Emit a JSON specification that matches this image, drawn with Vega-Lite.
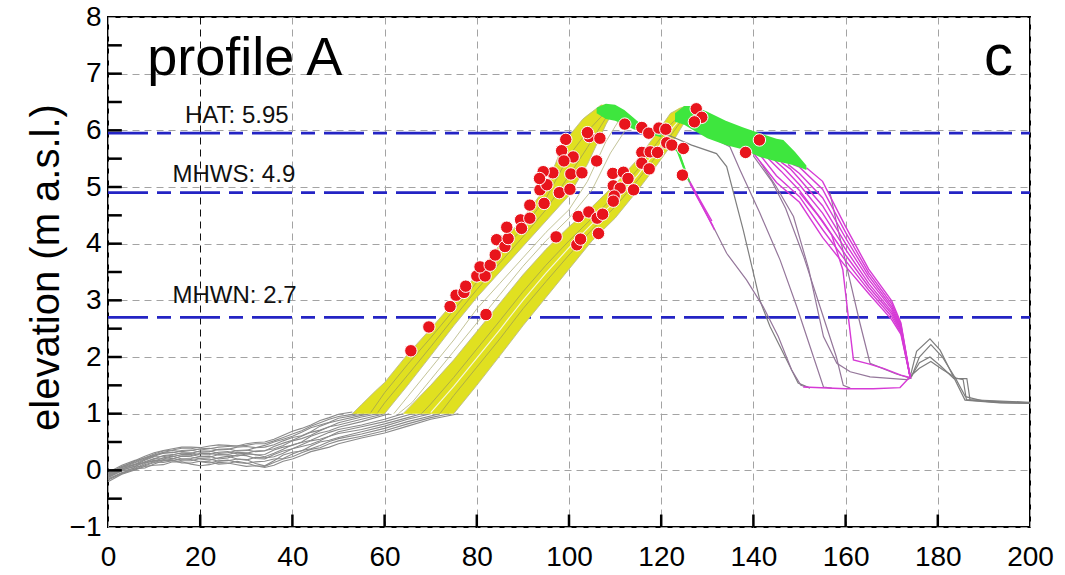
{
"$schema": "https://vega.github.io/schema/vega-lite/v6.json",
"width": 922, "height": 510,
"autosize": {"type": "none"},
"padding": {"left": 108, "top": 17, "right": 35, "bottom": 48},
"background": "#ffffff",
"config": {"view": {"stroke": "#000000", "strokeWidth": 2}},
"datasets": {
"off": [
{"s":1,"x":0,"y":-0.2},{"s":1,"x":3,"y":-0.07},{"s":1,"x":6,"y":0.01},{"s":1,"x":10,"y":0.09},{"s":1,"x":14,"y":0.15},{"s":1,"x":18,"y":0.11},{"s":1,"x":22,"y":0.1},{"s":1,"x":26,"y":0.13},{"s":1,"x":30,"y":0.07},{"s":1,"x":34,"y":0.05},{"s":1,"x":38,"y":0.16},{"s":1,"x":42,"y":0.26},{"s":1,"x":46,"y":0.37},{"s":1,"x":50,"y":0.47},{"s":1,"x":55,"y":0.57},{"s":1,"x":60,"y":0.66},{"s":1,"x":65,"y":0.78},{"s":1,"x":70,"y":0.9},{"s":1,"x":76,"y":1.0},
{"s":2,"x":0,"y":-0.17},{"s":2,"x":3,"y":-0.06},{"s":2,"x":6,"y":0.03},{"s":2,"x":10,"y":0.11},{"s":2,"x":14,"y":0.18},{"s":2,"x":18,"y":0.13},{"s":2,"x":22,"y":0.15},{"s":2,"x":26,"y":0.12},{"s":2,"x":30,"y":0.13},{"s":2,"x":34,"y":0.07},{"s":2,"x":38,"y":0.2},{"s":2,"x":42,"y":0.31},{"s":2,"x":46,"y":0.4},{"s":2,"x":50,"y":0.52},{"s":2,"x":55,"y":0.6},{"s":2,"x":60,"y":0.7},{"s":2,"x":65,"y":0.82},{"s":2,"x":70,"y":0.93},{"s":2,"x":74,"y":1.0},
{"s":3,"x":0,"y":-0.16},{"s":3,"x":3,"y":-0.04},{"s":3,"x":6,"y":0.02},{"s":3,"x":10,"y":0.15},{"s":3,"x":14,"y":0.17},{"s":3,"x":18,"y":0.19},{"s":3,"x":22,"y":0.13},{"s":3,"x":26,"y":0.18},{"s":3,"x":30,"y":0.12},{"s":3,"x":34,"y":0.16},{"s":3,"x":38,"y":0.21},{"s":3,"x":42,"y":0.35},{"s":3,"x":46,"y":0.44},{"s":3,"x":50,"y":0.56},{"s":3,"x":55,"y":0.64},{"s":3,"x":60,"y":0.74},{"s":3,"x":65,"y":0.86},{"s":3,"x":72,"y":1.0},
{"s":4,"x":0,"y":-0.15},{"s":4,"x":3,"y":-0.05},{"s":4,"x":6,"y":0.06},{"s":4,"x":10,"y":0.14},{"s":4,"x":14,"y":0.21},{"s":4,"x":18,"y":0.17},{"s":4,"x":22,"y":0.2},{"s":4,"x":26,"y":0.17},{"s":4,"x":30,"y":0.19},{"s":4,"x":34,"y":0.08},{"s":4,"x":38,"y":0.27},{"s":4,"x":42,"y":0.34},{"s":4,"x":46,"y":0.5},{"s":4,"x":50,"y":0.58},{"s":4,"x":55,"y":0.68},{"s":4,"x":60,"y":0.78},{"s":4,"x":65,"y":0.9},{"s":4,"x":70,"y":1.0},
{"s":5,"x":0,"y":-0.13},{"s":5,"x":3,"y":-0.01},{"s":5,"x":6,"y":0.04},{"s":5,"x":10,"y":0.18},{"s":5,"x":14,"y":0.2},{"s":5,"x":18,"y":0.24},{"s":5,"x":22,"y":0.18},{"s":5,"x":26,"y":0.25},{"s":5,"x":30,"y":0.18},{"s":5,"x":34,"y":0.22},{"s":5,"x":38,"y":0.3},{"s":5,"x":42,"y":0.42},{"s":5,"x":46,"y":0.52},{"s":5,"x":50,"y":0.65},{"s":5,"x":55,"y":0.72},{"s":5,"x":60,"y":0.82},{"s":5,"x":65,"y":0.93},{"s":5,"x":68,"y":1.0},
{"s":6,"x":0,"y":-0.12},{"s":6,"x":3,"y":0.0},{"s":6,"x":6,"y":0.08},{"s":6,"x":10,"y":0.16},{"s":6,"x":14,"y":0.25},{"s":6,"x":18,"y":0.21},{"s":6,"x":22,"y":0.25},{"s":6,"x":26,"y":0.22},{"s":6,"x":30,"y":0.26},{"s":6,"x":34,"y":0.2},{"s":6,"x":38,"y":0.34},{"s":6,"x":42,"y":0.45},{"s":6,"x":46,"y":0.55},{"s":6,"x":50,"y":0.68},{"s":6,"x":55,"y":0.77},{"s":6,"x":60,"y":0.86},{"s":6,"x":66,"y":1.0},
{"s":7,"x":0,"y":-0.11},{"s":7,"x":3,"y":0.01},{"s":7,"x":6,"y":0.07},{"s":7,"x":10,"y":0.21},{"s":7,"x":14,"y":0.24},{"s":7,"x":18,"y":0.28},{"s":7,"x":22,"y":0.23},{"s":7,"x":26,"y":0.27},{"s":7,"x":30,"y":0.29},{"s":7,"x":34,"y":0.24},{"s":7,"x":38,"y":0.37},{"s":7,"x":42,"y":0.49},{"s":7,"x":46,"y":0.6},{"s":7,"x":50,"y":0.72},{"s":7,"x":55,"y":0.8},{"s":7,"x":60,"y":0.9},{"s":7,"x":64,"y":1.0},
{"s":8,"x":0,"y":-0.1},{"s":8,"x":3,"y":0.02},{"s":8,"x":6,"y":0.11},{"s":8,"x":10,"y":0.2},{"s":8,"x":14,"y":0.28},{"s":8,"x":18,"y":0.26},{"s":8,"x":22,"y":0.3},{"s":8,"x":26,"y":0.28},{"s":8,"x":30,"y":0.31},{"s":8,"x":34,"y":0.28},{"s":8,"x":38,"y":0.41},{"s":8,"x":42,"y":0.5},{"s":8,"x":46,"y":0.66},{"s":8,"x":50,"y":0.76},{"s":8,"x":55,"y":0.86},{"s":8,"x":61,"y":1.0},
{"s":9,"x":0,"y":-0.09},{"s":9,"x":3,"y":0.03},{"s":9,"x":6,"y":0.1},{"s":9,"x":10,"y":0.24},{"s":9,"x":14,"y":0.27},{"s":9,"x":18,"y":0.31},{"s":9,"x":22,"y":0.28},{"s":9,"x":26,"y":0.33},{"s":9,"x":30,"y":0.3},{"s":9,"x":34,"y":0.35},{"s":9,"x":38,"y":0.44},{"s":9,"x":42,"y":0.56},{"s":9,"x":46,"y":0.7},{"s":9,"x":50,"y":0.8},{"s":9,"x":55,"y":0.9},{"s":9,"x":60,"y":1.0},
{"s":10,"x":0,"y":-0.08},{"s":10,"x":3,"y":0.05},{"s":10,"x":6,"y":0.11},{"s":10,"x":10,"y":0.25},{"s":10,"x":14,"y":0.32},{"s":10,"x":18,"y":0.3},{"s":10,"x":22,"y":0.34},{"s":10,"x":26,"y":0.31},{"s":10,"x":30,"y":0.36},{"s":10,"x":34,"y":0.34},{"s":10,"x":38,"y":0.48},{"s":10,"x":42,"y":0.6},{"s":10,"x":46,"y":0.71},{"s":10,"x":50,"y":0.84},{"s":10,"x":55,"y":0.94},{"s":10,"x":58.5,"y":1.0},
{"s":11,"x":0,"y":-0.07},{"s":11,"x":3,"y":0.05},{"s":11,"x":6,"y":0.14},{"s":11,"x":10,"y":0.27},{"s":11,"x":14,"y":0.31},{"s":11,"x":18,"y":0.36},{"s":11,"x":22,"y":0.33},{"s":11,"x":26,"y":0.38},{"s":11,"x":30,"y":0.35},{"s":11,"x":34,"y":0.41},{"s":11,"x":38,"y":0.52},{"s":11,"x":42,"y":0.61},{"s":11,"x":46,"y":0.78},{"s":11,"x":50,"y":0.88},{"s":11,"x":55,"y":0.97},{"s":11,"x":57,"y":1.0},
{"s":12,"x":0,"y":-0.06},{"s":12,"x":3,"y":0.07},{"s":12,"x":6,"y":0.15},{"s":12,"x":10,"y":0.26},{"s":12,"x":14,"y":0.35},{"s":12,"x":18,"y":0.35},{"s":12,"x":22,"y":0.39},{"s":12,"x":26,"y":0.37},{"s":12,"x":30,"y":0.42},{"s":12,"x":34,"y":0.44},{"s":12,"x":38,"y":0.55},{"s":12,"x":42,"y":0.67},{"s":12,"x":46,"y":0.8},{"s":12,"x":50,"y":0.92},{"s":12,"x":55.5,"y":1.0},
{"s":13,"x":0,"y":-0.05},{"s":13,"x":3,"y":0.06},{"s":13,"x":6,"y":0.17},{"s":13,"x":10,"y":0.29},{"s":13,"x":14,"y":0.36},{"s":13,"x":18,"y":0.39},{"s":13,"x":22,"y":0.38},{"s":13,"x":26,"y":0.42},{"s":13,"x":30,"y":0.44},{"s":13,"x":34,"y":0.47},{"s":13,"x":38,"y":0.58},{"s":13,"x":42,"y":0.7},{"s":13,"x":46,"y":0.84},{"s":13,"x":50,"y":0.95},{"s":13,"x":54,"y":1.0},
{"s":14,"x":0,"y":-0.04},{"s":14,"x":3,"y":0.09},{"s":14,"x":6,"y":0.18},{"s":14,"x":10,"y":0.31},{"s":14,"x":14,"y":0.38},{"s":14,"x":18,"y":0.41},{"s":14,"x":22,"y":0.43},{"s":14,"x":26,"y":0.44},{"s":14,"x":30,"y":0.47},{"s":14,"x":34,"y":0.5},{"s":14,"x":38,"y":0.62},{"s":14,"x":42,"y":0.74},{"s":14,"x":46,"y":0.88},{"s":14,"x":50,"y":0.99},{"s":14,"x":53,"y":1.03},
{"s":1,"x":8,"y":0.07},{"s":1,"x":12,"y":0.1},{"s":1,"x":16,"y":0.15},{"s":1,"x":20,"y":0.08},{"s":1,"x":24,"y":0.14},{"s":1,"x":28,"y":0.1},{"s":1,"x":32,"y":0.08},{"s":1,"x":36,"y":0.09},{"s":1,"x":40,"y":0.2},{"s":1,"x":44,"y":0.33},{"s":1,"x":48,"y":0.41},
{"s":2,"x":8,"y":0.04},{"s":2,"x":12,"y":0.17},{"s":2,"x":16,"y":0.13},{"s":2,"x":20,"y":0.16},{"s":2,"x":24,"y":0.11},{"s":2,"x":28,"y":0.16},{"s":2,"x":32,"y":0.08},{"s":2,"x":36,"y":0.14},{"s":2,"x":40,"y":0.24},{"s":2,"x":44,"y":0.37},{"s":2,"x":48,"y":0.47},
{"s":3,"x":8,"y":0.1},{"s":3,"x":12,"y":0.14},{"s":3,"x":16,"y":0.2},{"s":3,"x":20,"y":0.15},{"s":3,"x":24,"y":0.17},{"s":3,"x":28,"y":0.14},{"s":3,"x":32,"y":0.15},{"s":3,"x":36,"y":0.2},{"s":3,"x":40,"y":0.29},{"s":3,"x":44,"y":0.38},{"s":3,"x":48,"y":0.51},
{"s":4,"x":8,"y":0.08},{"s":4,"x":12,"y":0.19},{"s":4,"x":16,"y":0.17},{"s":4,"x":20,"y":0.21},{"s":4,"x":24,"y":0.16},{"s":4,"x":28,"y":0.2},{"s":4,"x":32,"y":0.12},{"s":4,"x":36,"y":0.17},{"s":4,"x":40,"y":0.32},{"s":4,"x":44,"y":0.43},{"s":4,"x":48,"y":0.53},
{"s":5,"x":8,"y":0.12},{"s":5,"x":12,"y":0.17},{"s":5,"x":16,"y":0.25},{"s":5,"x":20,"y":0.2},{"s":5,"x":24,"y":0.22},{"s":5,"x":28,"y":0.2},{"s":5,"x":32,"y":0.23},{"s":5,"x":36,"y":0.24},{"s":5,"x":40,"y":0.38},{"s":5,"x":44,"y":0.46},{"s":5,"x":48,"y":0.6},
{"s":6,"x":8,"y":0.14},{"s":6,"x":12,"y":0.22},{"s":6,"x":16,"y":0.2},{"s":6,"x":20,"y":0.24},{"s":6,"x":24,"y":0.2},{"s":6,"x":28,"y":0.27},{"s":6,"x":32,"y":0.21},{"s":6,"x":36,"y":0.28},{"s":6,"x":40,"y":0.38},{"s":6,"x":44,"y":0.52},{"s":6,"x":48,"y":0.6},
{"s":7,"x":8,"y":0.15},{"s":7,"x":12,"y":0.2},{"s":7,"x":16,"y":0.28},{"s":7,"x":20,"y":0.24},{"s":7,"x":24,"y":0.28},{"s":7,"x":28,"y":0.25},{"s":7,"x":32,"y":0.28},{"s":7,"x":36,"y":0.3},{"s":7,"x":40,"y":0.45},{"s":7,"x":44,"y":0.53},{"s":7,"x":48,"y":0.67},
{"s":8,"x":8,"y":0.14},{"s":8,"x":12,"y":0.26},{"s":8,"x":16,"y":0.25},{"s":8,"x":20,"y":0.3},{"s":8,"x":24,"y":0.27},{"s":8,"x":28,"y":0.32},{"s":8,"x":32,"y":0.27},{"s":8,"x":36,"y":0.36},{"s":8,"x":40,"y":0.44},{"s":8,"x":44,"y":0.6},{"s":8,"x":48,"y":0.7},
{"s":9,"x":8,"y":0.18},{"s":9,"x":12,"y":0.24},{"s":9,"x":16,"y":0.31},{"s":9,"x":20,"y":0.27},{"s":9,"x":24,"y":0.32},{"s":9,"x":28,"y":0.29},{"s":9,"x":32,"y":0.34},{"s":9,"x":36,"y":0.38},{"s":9,"x":40,"y":0.52},{"s":9,"x":44,"y":0.62},{"s":9,"x":48,"y":0.77},
{"s":10,"x":8,"y":0.19},{"s":10,"x":12,"y":0.3},{"s":10,"x":16,"y":0.29},{"s":10,"x":20,"y":0.34},{"s":10,"x":24,"y":0.3},{"s":10,"x":28,"y":0.35},{"s":10,"x":32,"y":0.33},{"s":10,"x":36,"y":0.42},{"s":10,"x":40,"y":0.53},{"s":10,"x":44,"y":0.67},{"s":10,"x":48,"y":0.77},
{"s":11,"x":8,"y":0.2},{"s":11,"x":12,"y":0.31},{"s":11,"x":16,"y":0.35},{"s":11,"x":20,"y":0.32},{"s":11,"x":24,"y":0.37},{"s":11,"x":28,"y":0.34},{"s":11,"x":32,"y":0.4},{"s":11,"x":36,"y":0.45},{"s":11,"x":40,"y":0.58},{"s":11,"x":44,"y":0.68},{"s":11,"x":48,"y":0.84},
{"s":12,"x":8,"y":0.22},{"s":12,"x":12,"y":0.32},{"s":12,"x":16,"y":0.33},{"s":12,"x":20,"y":0.38},{"s":12,"x":24,"y":0.36},{"s":12,"x":28,"y":0.41},{"s":12,"x":32,"y":0.4},{"s":12,"x":36,"y":0.5},{"s":12,"x":40,"y":0.6},{"s":12,"x":44,"y":0.75},{"s":12,"x":48,"y":0.85},
{"s":13,"x":8,"y":0.22},{"s":13,"x":12,"y":0.34},{"s":13,"x":16,"y":0.39},{"s":13,"x":20,"y":0.36},{"s":13,"x":24,"y":0.41},{"s":13,"x":28,"y":0.43},{"s":13,"x":32,"y":0.47},{"s":13,"x":36,"y":0.52},{"s":13,"x":40,"y":0.64},{"s":13,"x":44,"y":0.78},{"s":13,"x":48,"y":0.9},
{"s":14,"x":8,"y":0.25},{"s":14,"x":12,"y":0.35},{"s":14,"x":16,"y":0.41},{"s":14,"x":20,"y":0.4},{"s":14,"x":24,"y":0.45},{"s":14,"x":28,"y":0.43},{"s":14,"x":32,"y":0.49},{"s":14,"x":36,"y":0.55},{"s":14,"x":40,"y":0.69},{"s":14,"x":44,"y":0.8},{"s":14,"x":48,"y":0.93}
],
"yb": [
{"b":"U","x":53,"y":1,"y2":1},{"b":"U","x":55,"y":1.16,"y2":1},{"b":"U","x":58,"y":1.4,"y2":1},{"b":"U","x":60,"y":1.55,"y2":1},{"b":"U","x":65,"y":2.05,"y2":1.5},{"b":"U","x":70,"y":2.5,"y2":2.02},{"b":"U","x":75,"y":2.97,"y2":2.55},{"b":"U","x":80,"y":3.45,"y2":3.05},{"b":"U","x":85,"y":3.98,"y2":3.5},{"b":"U","x":90,"y":4.45,"y2":3.95},{"b":"U","x":95,"y":5,"y2":4.4},{"b":"U","x":99,"y":5.8,"y2":4.76},{"b":"U","x":100,"y":5.9,"y2":4.85},{"b":"U","x":103,"y":6.2,"y2":5.26},{"b":"U","x":104,"y":6.27,"y2":5.4},{"b":"U","x":107,"y":6.45,"y2":5.92},{"b":"U","x":108,"y":6.45,"y2":6.1},{"b":"U","x":110,"y":6.4,"y2":6.4},
{"b":"L","x":64,"y":1,"y2":1},{"b":"L","x":65,"y":1.08,"y2":1},{"b":"L","x":70,"y":1.5,"y2":1},{"b":"L","x":75,"y":1.95,"y2":1},{"b":"L","x":80,"y":2.45,"y2":1.5},{"b":"L","x":85,"y":2.95,"y2":2.02},{"b":"L","x":90,"y":3.45,"y2":2.55},{"b":"L","x":95,"y":3.9,"y2":3.05},{"b":"L","x":100,"y":4.3,"y2":3.55},{"b":"L","x":105,"y":4.65,"y2":4.05},{"b":"L","x":110,"y":5.05,"y2":4.45},{"b":"L","x":115,"y":5.5,"y2":4.95},{"b":"L","x":119,"y":5.95,"y2":5.38},{"b":"L","x":122,"y":6.3,"y2":5.72},{"b":"L","x":124,"y":6.4,"y2":6.0},{"b":"L","x":125,"y":6.42,"y2":6.13},{"b":"L","x":127,"y":6.4,"y2":6.4}
],
"gb": [
{"b":"G1","x":106,"y":6.4,"y2":6.3},{"b":"G1","x":108,"y":6.47,"y2":6.2},{"b":"G1","x":110,"y":6.45,"y2":6.17},{"b":"G1","x":112,"y":6.36,"y2":6.1},{"b":"G1","x":114,"y":6.22,"y2":6.02},{"b":"G1","x":116,"y":6.08,"y2":5.96},{"b":"G1","x":118,"y":5.99,"y2":5.92},{"b":"G1","x":120,"y":5.95,"y2":5.88},
{"b":"G2","x":123,"y":6.3,"y2":6.15},{"b":"G2","x":125,"y":6.43,"y2":6.1},{"b":"G2","x":127,"y":6.43,"y2":6.0},{"b":"G2","x":130,"y":6.33,"y2":5.86},{"b":"G2","x":134,"y":6.17,"y2":5.74},{"b":"G2","x":137.8,"y":6.05,"y2":5.66},{"b":"G2","x":141.4,"y":5.95,"y2":5.53},{"b":"G2","x":145,"y":5.85,"y2":5.45},{"b":"G2","x":146.5,"y":5.83,"y2":5.43},{"b":"G2","x":149,"y":5.62,"y2":5.38},{"b":"G2","x":151.5,"y":5.38,"y2":5.3}
],
"tex": [
{"s":"UL","c":"l","x":53,"y":1},{"s":"UL","c":"l","x":55,"y":1.16},{"s":"UL","c":"l","x":58,"y":1.4},{"s":"UL","c":"l","x":60,"y":1.55},{"s":"UL","c":"l","x":65,"y":2.05},{"s":"UL","c":"l","x":70,"y":2.5},{"s":"UL","c":"l","x":75,"y":2.97},{"s":"UL","c":"l","x":80,"y":3.45},{"s":"UL","c":"l","x":85,"y":3.98},{"s":"UL","c":"l","x":90,"y":4.45},{"s":"UL","c":"l","x":95,"y":5},{"s":"UL","c":"l","x":99,"y":5.8},{"s":"UL","c":"l","x":103,"y":6.2},{"s":"UL","c":"l","x":107,"y":6.45},
{"s":"UR","c":"l","x":60,"y":1},{"s":"UR","c":"l","x":65,"y":1.5},{"s":"UR","c":"l","x":70,"y":2.02},{"s":"UR","c":"l","x":75,"y":2.55},{"s":"UR","c":"l","x":80,"y":3.05},{"s":"UR","c":"l","x":85,"y":3.5},{"s":"UR","c":"l","x":90,"y":3.95},{"s":"UR","c":"l","x":95,"y":4.4},{"s":"UR","c":"l","x":100,"y":4.85},{"s":"UR","c":"l","x":104,"y":5.4},{"s":"UR","c":"l","x":108,"y":6.1},{"s":"UR","c":"l","x":110,"y":6.4},
{"s":"U33","c":"o","x":57,"y":1.02},{"s":"U33","c":"o","x":60,"y":1.37},{"s":"U33","c":"o","x":65,"y":1.87},{"s":"U33","c":"o","x":70,"y":2.34},{"s":"U33","c":"o","x":75,"y":2.83},{"s":"U33","c":"o","x":80,"y":3.32},{"s":"U33","c":"o","x":85,"y":3.82},{"s":"U33","c":"o","x":90,"y":4.28},{"s":"U33","c":"o","x":95,"y":4.8},{"s":"U33","c":"o","x":100,"y":5.55},{"s":"U33","c":"o","x":104,"y":5.98},{"s":"U33","c":"o","x":108,"y":6.33},
{"s":"U66","c":"o","x":58.5,"y":1.02},{"s":"U66","c":"o","x":60,"y":1.19},{"s":"U66","c":"o","x":65,"y":1.68},{"s":"U66","c":"o","x":70,"y":2.18},{"s":"U66","c":"o","x":75,"y":2.69},{"s":"U66","c":"o","x":80,"y":3.19},{"s":"U66","c":"o","x":85,"y":3.66},{"s":"U66","c":"o","x":90,"y":4.12},{"s":"U66","c":"o","x":95,"y":4.6},{"s":"U66","c":"o","x":100,"y":5.2},{"s":"U66","c":"o","x":104,"y":5.7},{"s":"U66","c":"o","x":108,"y":6.22},
{"s":"L33","c":"o","x":68,"y":1},{"s":"L33","c":"o","x":70,"y":1.17},{"s":"L33","c":"o","x":75,"y":1.64},{"s":"L33","c":"o","x":80,"y":2.14},{"s":"L33","c":"o","x":85,"y":2.64},{"s":"L33","c":"o","x":90,"y":3.15},{"s":"L33","c":"o","x":95,"y":3.62},{"s":"L33","c":"o","x":100,"y":4.05},{"s":"L33","c":"o","x":105,"y":4.45},{"s":"L33","c":"o","x":110,"y":4.85},{"s":"L33","c":"o","x":115,"y":5.32},{"s":"L33","c":"o","x":119,"y":5.77},{"s":"L33","c":"o","x":122,"y":6.1},{"s":"L33","c":"o","x":125,"y":6.33},
{"s":"L50","c":"w","x":70,"y":1.02},{"s":"L50","c":"w","x":75,"y":1.48},{"s":"L50","c":"w","x":80,"y":1.98},{"s":"L50","c":"w","x":85,"y":2.48},{"s":"L50","c":"w","x":90,"y":3},{"s":"L50","c":"w","x":95,"y":3.48},{"s":"L50","c":"w","x":100,"y":3.93},{"s":"L50","c":"w","x":105,"y":4.35},{"s":"L50","c":"w","x":110,"y":4.75},{"s":"L50","c":"w","x":115,"y":5.22},{"s":"L50","c":"w","x":119,"y":5.66},{"s":"L50","c":"w","x":122,"y":6},{"s":"L50","c":"w","x":125,"y":6.28},
{"s":"L66","c":"o","x":72,"y":1},{"s":"L66","c":"o","x":75,"y":1.32},{"s":"L66","c":"o","x":80,"y":1.82},{"s":"L66","c":"o","x":85,"y":2.32},{"s":"L66","c":"o","x":90,"y":2.85},{"s":"L66","c":"o","x":95,"y":3.33},{"s":"L66","c":"o","x":100,"y":3.8},{"s":"L66","c":"o","x":105,"y":4.25},{"s":"L66","c":"o","x":110,"y":4.65},{"s":"L66","c":"o","x":115,"y":5.13},{"s":"L66","c":"o","x":119,"y":5.55},{"s":"L66","c":"o","x":122,"y":5.9},{"s":"L66","c":"o","x":125,"y":6.24},
{"s":"LL","c":"l","x":64,"y":1},{"s":"LL","c":"l","x":70,"y":1.5},{"s":"LL","c":"l","x":75,"y":1.95},{"s":"LL","c":"l","x":80,"y":2.45},{"s":"LL","c":"l","x":85,"y":2.95},{"s":"LL","c":"l","x":90,"y":3.45},{"s":"LL","c":"l","x":95,"y":3.9},{"s":"LL","c":"l","x":100,"y":4.3},{"s":"LL","c":"l","x":105,"y":4.65},{"s":"LL","c":"l","x":110,"y":5.05},{"s":"LL","c":"l","x":115,"y":5.5},{"s":"LL","c":"l","x":119,"y":5.95},{"s":"LL","c":"l","x":122,"y":6.3},{"s":"LL","c":"l","x":125,"y":6.42},
{"s":"LR","c":"l","x":75,"y":1},{"s":"LR","c":"l","x":80,"y":1.5},{"s":"LR","c":"l","x":85,"y":2.02},{"s":"LR","c":"l","x":90,"y":2.55},{"s":"LR","c":"l","x":95,"y":3.05},{"s":"LR","c":"l","x":100,"y":3.55},{"s":"LR","c":"l","x":105,"y":4.05},{"s":"LR","c":"l","x":110,"y":4.45},{"s":"LR","c":"l","x":115,"y":4.95},{"s":"LR","c":"l","x":119,"y":5.38},{"s":"LR","c":"l","x":122,"y":5.72},{"s":"LR","c":"l","x":124,"y":6},{"s":"LR","c":"l","x":127,"y":6.4},
{"s":"GP1","c":"l","x":62,"y":1},{"s":"GP1","c":"l","x":65,"y":1.3},{"s":"GP1","c":"l","x":70,"y":1.8},{"s":"GP1","c":"l","x":75,"y":2.3},{"s":"GP1","c":"l","x":80,"y":2.85},{"s":"GP1","c":"l","x":85,"y":3.3},{"s":"GP1","c":"l","x":90,"y":3.75},{"s":"GP1","c":"l","x":95,"y":4.2},{"s":"GP1","c":"l","x":100,"y":4.6},{"s":"GP1","c":"l","x":104,"y":5.1},{"s":"GP1","c":"l","x":108,"y":5.8},{"s":"GP1","c":"l","x":111,"y":6.2},
{"s":"GP2","c":"l","x":63,"y":1},{"s":"GP2","c":"l","x":66,"y":1.2},{"s":"GP2","c":"l","x":70,"y":1.6},{"s":"GP2","c":"l","x":75,"y":2.1},{"s":"GP2","c":"l","x":80,"y":2.6},{"s":"GP2","c":"l","x":85,"y":3.1},{"s":"GP2","c":"l","x":90,"y":3.6},{"s":"GP2","c":"l","x":95,"y":4.05},{"s":"GP2","c":"l","x":100,"y":4.45},{"s":"GP2","c":"l","x":105,"y":4.95},{"s":"GP2","c":"l","x":109,"y":5.6},{"s":"GP2","c":"l","x":113,"y":6.1}
],
"back": [
{"s":"A","c":"k","x":118,"y":5.97},{"s":"A","c":"k","x":122,"y":5.9},{"s":"A","c":"k","x":126.6,"y":5.74},{"s":"A","c":"k","x":132,"y":5.59},{"s":"A","c":"k","x":134.2,"y":5.36},{"s":"A","c":"k","x":137.8,"y":4.24},{"s":"A","c":"k","x":141.4,"y":3},{"s":"A","c":"k","x":143.6,"y":2.54},{"s":"A","c":"k","x":147.2,"y":1.95},{"s":"A","c":"k","x":149.7,"y":1.54},{"s":"A","c":"k","x":152.3,"y":1.45},
{"s":"G1","c":"k","x":174,"y":1.65},{"s":"G1","c":"k","x":175.4,"y":2.1},{"s":"G1","c":"k","x":178.3,"y":2.32},{"s":"G1","c":"k","x":180.5,"y":2.12},{"s":"G1","c":"k","x":183.4,"y":1.65},{"s":"G1","c":"k","x":185.9,"y":1.24},{"s":"G1","c":"k","x":193.5,"y":1.19},{"s":"G1","c":"k","x":200,"y":1.18},
{"s":"G2","c":"k","x":174,"y":1.62},{"s":"G2","c":"k","x":176,"y":1.9},{"s":"G2","c":"k","x":178.3,"y":2.0},{"s":"G2","c":"k","x":180.5,"y":1.85},{"s":"G2","c":"k","x":183.5,"y":1.62},{"s":"G2","c":"k","x":186.3,"y":1.62},{"s":"G2","c":"k","x":187,"y":1.24},{"s":"G2","c":"k","x":193,"y":1.2},{"s":"G2","c":"k","x":200,"y":1.18},
{"s":"G3","c":"k","x":174.3,"y":1.65},{"s":"G3","c":"k","x":176,"y":2.0},{"s":"G3","c":"k","x":178.5,"y":2.22},{"s":"G3","c":"k","x":181,"y":2.0},{"s":"G3","c":"k","x":184,"y":1.6},{"s":"G3","c":"k","x":186,"y":1.3},{"s":"G3","c":"k","x":190,"y":1.22},{"s":"G3","c":"k","x":200,"y":1.19},
{"s":"G4","c":"k","x":173.5,"y":1.62},{"s":"G4","c":"k","x":176,"y":1.8},{"s":"G4","c":"k","x":178.5,"y":1.92},{"s":"G4","c":"k","x":181,"y":1.78},{"s":"G4","c":"k","x":184,"y":1.63},{"s":"G4","c":"k","x":185.5,"y":1.6},{"s":"G4","c":"k","x":186.2,"y":1.25},{"s":"G4","c":"k","x":200,"y":1.2},
{"s":"Bp","c":"p","x":131.3,"y":4.3},{"s":"Bp","c":"p","x":134.2,"y":3.83},{"s":"Bp","c":"p","x":138.5,"y":3.36},{"s":"Bp","c":"p","x":142.1,"y":2.89},{"s":"Bp","c":"p","x":145.4,"y":2.36},{"s":"Bp","c":"p","x":148.3,"y":1.77},{"s":"Bp","c":"p","x":150.3,"y":1.5},{"s":"Bp","c":"p","x":152,"y":1.46},
{"s":"C","c":"p","x":132,"y":5.83},{"s":"C","c":"p","x":134.9,"y":5.71},{"s":"C","c":"p","x":137.1,"y":5.3},{"s":"C","c":"p","x":141.4,"y":4.54},{"s":"C","c":"p","x":145.8,"y":3.71},{"s":"C","c":"p","x":149.4,"y":2.89},{"s":"C","c":"p","x":152.3,"y":2.18},{"s":"C","c":"p","x":155.2,"y":1.47},{"s":"C","c":"p","x":157,"y":1.45},
{"s":"D","c":"p","x":140,"y":5.55},{"s":"D","c":"p","x":144,"y":5.1},{"s":"D","c":"p","x":147,"y":4.62},{"s":"D","c":"p","x":151,"y":3.75},{"s":"D","c":"p","x":155,"y":2.75},{"s":"D","c":"p","x":158,"y":2},{"s":"D","c":"p","x":159.5,"y":1.5},{"s":"D","c":"p","x":161,"y":1.45},
{"s":"P1","c":"p","x":141.4,"y":5.45},{"s":"P1","c":"p","x":145,"y":5},{"s":"P1","c":"p","x":148.7,"y":4.48},{"s":"P1","c":"p","x":152,"y":3.55},{"s":"P1","c":"p","x":155.2,"y":2.36},{"s":"P1","c":"p","x":158.1,"y":1.89},{"s":"P1","c":"p","x":161,"y":1.74},{"s":"P1","c":"p","x":165.3,"y":1.65},{"s":"P1","c":"p","x":173.2,"y":1.6},{"s":"P1","c":"p","x":174.3,"y":1.63},
{"s":"P2","c":"p","x":156.6,"y":4.9},{"s":"P2","c":"p","x":158.5,"y":4.2},{"s":"P2","c":"p","x":160.8,"y":3.4},{"s":"P2","c":"p","x":163.1,"y":2.6},{"s":"P2","c":"p","x":165.3,"y":1.89},{"s":"P2","c":"p","x":168,"y":1.8},{"s":"P2","c":"p","x":171,"y":1.7},{"s":"P2","c":"p","x":173.5,"y":1.64}
],
"mag": [
{"s":"A2","c":"m","x":150.8,"y":1.47},{"s":"A2","c":"m","x":160,"y":1.44},{"s":"A2","c":"m","x":166,"y":1.44},{"s":"A2","c":"m","x":171.8,"y":1.46},{"s":"A2","c":"m","x":174,"y":1.65},
{"s":"Bm1","c":"m","x":125.9,"y":5.12},{"s":"Bm1","c":"m","x":128.5,"y":4.72},{"s":"Bm1","c":"m","x":131.3,"y":4.3},
{"s":"Bm2","c":"m","x":125.5,"y":5.2},{"s":"Bm2","c":"m","x":128.2,"y":4.8},{"s":"Bm2","c":"m","x":131,"y":4.4},
{"s":"Bm3","c":"m","x":126.3,"y":5.05},{"s":"Bm3","c":"m","x":129,"y":4.65},{"s":"Bm3","c":"m","x":131.6,"y":4.24},
{"s":"P3","c":"m","x":150,"y":4.9},{"s":"P3","c":"m","x":154,"y":4.5},{"s":"P3","c":"m","x":157,"y":4.15},{"s":"P3","c":"m","x":159.4,"y":3.54},{"s":"P3","c":"m","x":160.6,"y":2.7},{"s":"P3","c":"m","x":161.7,"y":1.95},{"s":"P3","c":"m","x":165,"y":1.88},{"s":"P3","c":"m","x":168.2,"y":1.8},{"s":"P3","c":"m","x":172,"y":1.68},{"s":"P3","c":"m","x":174.3,"y":1.63},
{"s":"M1","c":"m","x":140,"y":5.6},{"s":"M1","c":"m","x":145,"y":5.08},{"s":"M1","c":"m","x":150,"y":4.73},{"s":"M1","c":"m","x":155,"y":4.11},{"s":"M1","c":"m","x":160,"y":3.6},{"s":"M1","c":"m","x":165,"y":3.12},{"s":"M1","c":"m","x":170,"y":2.66},{"s":"M1","c":"m","x":172,"y":2.4},{"s":"M1","c":"m","x":174,"y":1.65},
{"s":"M2","c":"m","x":141.5,"y":5.56},{"s":"M2","c":"m","x":145,"y":5.2},{"s":"M2","c":"m","x":150,"y":4.83},{"s":"M2","c":"m","x":155,"y":4.25},{"s":"M2","c":"m","x":160,"y":3.7},{"s":"M2","c":"m","x":165,"y":3.18},{"s":"M2","c":"m","x":170,"y":2.71},{"s":"M2","c":"m","x":172,"y":2.43},{"s":"M2","c":"m","x":174,"y":1.65},
{"s":"M3","c":"m","x":143,"y":5.52},{"s":"M3","c":"m","x":146,"y":5.28},{"s":"M3","c":"m","x":150,"y":4.94},{"s":"M3","c":"m","x":155,"y":4.4},{"s":"M3","c":"m","x":160,"y":3.8},{"s":"M3","c":"m","x":165,"y":3.24},{"s":"M3","c":"m","x":170,"y":2.76},{"s":"M3","c":"m","x":172,"y":2.46},{"s":"M3","c":"m","x":174,"y":1.65},
{"s":"M4","c":"m","x":144.5,"y":5.48},{"s":"M4","c":"m","x":147,"y":5.3},{"s":"M4","c":"m","x":150,"y":5.04},{"s":"M4","c":"m","x":155,"y":4.54},{"s":"M4","c":"m","x":160,"y":3.9},{"s":"M4","c":"m","x":165,"y":3.3},{"s":"M4","c":"m","x":170,"y":2.8},{"s":"M4","c":"m","x":172,"y":2.49},{"s":"M4","c":"m","x":174,"y":1.65},
{"s":"M5","c":"m","x":146,"y":5.44},{"s":"M5","c":"m","x":148,"y":5.32},{"s":"M5","c":"m","x":150,"y":5.14},{"s":"M5","c":"m","x":155,"y":4.67},{"s":"M5","c":"m","x":160,"y":4.0},{"s":"M5","c":"m","x":165,"y":3.37},{"s":"M5","c":"m","x":170,"y":2.85},{"s":"M5","c":"m","x":172,"y":2.51},{"s":"M5","c":"m","x":174,"y":1.65},
{"s":"M6","c":"m","x":147.5,"y":5.4},{"s":"M6","c":"m","x":150,"y":5.24},{"s":"M6","c":"m","x":155,"y":4.81},{"s":"M6","c":"m","x":160,"y":4.1},{"s":"M6","c":"m","x":165,"y":3.43},{"s":"M6","c":"m","x":170,"y":2.89},{"s":"M6","c":"m","x":172,"y":2.54},{"s":"M6","c":"m","x":174,"y":1.65},
{"s":"M7","c":"m","x":148.5,"y":5.4},{"s":"M7","c":"m","x":150,"y":5.35},{"s":"M7","c":"m","x":155,"y":4.96},{"s":"M7","c":"m","x":160,"y":4.2},{"s":"M7","c":"m","x":165,"y":3.49},{"s":"M7","c":"m","x":170,"y":2.94},{"s":"M7","c":"m","x":172,"y":2.57},{"s":"M7","c":"m","x":174,"y":1.65},
{"s":"M8","c":"m","x":151.5,"y":5.34},{"s":"M8","c":"m","x":155,"y":5.1},{"s":"M8","c":"m","x":160,"y":4.3},{"s":"M8","c":"m","x":165,"y":3.55},{"s":"M8","c":"m","x":170,"y":2.99},{"s":"M8","c":"m","x":172,"y":2.6},{"s":"M8","c":"m","x":174,"y":1.65},
{"s":"Bn1","c":"n","x":121,"y":5.78},{"s":"Bn1","c":"n","x":123.4,"y":5.7},{"s":"Bn1","c":"n","x":125.9,"y":5.12},
{"s":"Bn2","c":"n","x":121.5,"y":5.74},{"s":"Bn2","c":"n","x":123.8,"y":5.62},{"s":"Bn2","c":"n","x":126.2,"y":5.08},
{"s":"Bn3","c":"n","x":120.5,"y":5.8},{"s":"Bn3","c":"n","x":123,"y":5.74},{"s":"Bn3","c":"n","x":125.6,"y":5.18}
],
"dots": [
{"x":65.7,"y":2.11},{"x":69.6,"y":2.53},{"x":74.2,"y":2.89},{"x":75.5,"y":3.09},{"x":77.2,"y":3.14},{"x":77.6,"y":3.25},{"x":82.0,"y":2.75},{"x":80.0,"y":3.43},{"x":81.8,"y":3.43},{"x":80.7,"y":3.59},{"x":82.9,"y":3.62},{"x":84.0,"y":3.8},{"x":84.3,"y":4.07},{"x":86.1,"y":3.95},{"x":86.8,"y":4.09},{"x":86.5,"y":4.29},{"x":89.5,"y":4.42},{"x":89.7,"y":4.27},{"x":91.5,"y":4.45},{"x":91.5,"y":4.68},{"x":94.6,"y":4.71},{"x":93.7,"y":4.95},{"x":95.2,"y":5.04},{"x":97.9,"y":4.9},{"x":100.2,"y":4.96},{"x":97.2,"y":4.12},{"x":102.0,"y":4.48},{"x":101.7,"y":3.98},{"x":96.5,"y":5.25},{"x":100.4,"y":5.23},{"x":99.3,"y":5.84},{"x":98.4,"y":5.64},{"x":100.9,"y":5.53},{"x":98.9,"y":5.46},{"x":102.8,"y":5.25},{"x":94.4,"y":5.27},{"x":93.6,"y":5.15},{"x":104.4,"y":5.89},{"x":104.0,"y":5.96},{"x":106.7,"y":5.86},{"x":106.0,"y":5.46},{"x":112.1,"y":6.11},{"x":115.8,"y":6.05},{"x":117.3,"y":5.95},{"x":119.5,"y":6.04},{"x":121.0,"y":6.02},{"x":121.2,"y":5.78},{"x":122.3,"y":5.74},{"x":124.8,"y":5.68},{"x":127.6,"y":6.38},{"x":128.8,"y":6.23},{"x":127.2,"y":6.15},{"x":115.8,"y":5.61},{"x":117.6,"y":5.62},{"x":119.2,"y":5.61},{"x":115.8,"y":5.42},{"x":117.4,"y":5.32},{"x":109.5,"y":5.24},{"x":111.8,"y":5.26},{"x":112.8,"y":5.15},{"x":109.6,"y":5.02},{"x":111.1,"y":4.98},{"x":114.0,"y":4.95},{"x":109.8,"y":4.84},{"x":109.6,"y":4.75},{"x":104.3,"y":4.56},{"x":106.1,"y":4.45},{"x":107.3,"y":4.52},{"x":106.4,"y":4.18},{"x":102.5,"y":4.08},{"x":124.6,"y":5.21},{"x":138.3,"y":5.61},{"x":141.3,"y":5.83}
],
"lev": [{"x":0,"x2":200,"y":5.95},{"x":0,"x2":200,"y":4.9},{"x":0,"x2":200,"y":2.7}],
"yt": [{"x":0,"y":-0.5},{"x":0,"y":0},{"x":0,"y":0.5},{"x":0,"y":1},{"x":0,"y":1.5},{"x":0,"y":2},{"x":0,"y":2.5},{"x":0,"y":3},{"x":0,"y":3.5},{"x":0,"y":4},{"x":0,"y":4.5},{"x":0,"y":5},{"x":0,"y":5.5},{"x":0,"y":6},{"x":0,"y":6.5},{"x":0,"y":7},{"x":0,"y":7.5}],
"xt": [{"x":20,"y":-1},{"x":40,"y":-1},{"x":60,"y":-1},{"x":80,"y":-1},{"x":100,"y":-1},{"x":120,"y":-1},{"x":140,"y":-1},{"x":160,"y":-1},{"x":180,"y":-1}],
"lab": [{"x":16.7,"y":6.13,"t":"HAT: 5.95"},{"x":14.0,"y":5.09,"t":"MHWS: 4.9"},{"x":14.0,"y":2.95,"t":"MHWN: 2.7"}],
"ttl": [{"x":8.5,"y":6.98,"t":"profile A"}],
"pc": [{"x":196.3,"y":6.98,"t":"c"}]
},
"encoding": {
"x": {"field": "x", "type": "quantitative",
 "scale": {"domain": [0, 200], "nice": false, "zero": false},
 "axis": {"values": [0,20,40,60,80,100,120,140,160,180,200], "grid": true, "gridDash": [7,5],
  "gridColor": {"condition": {"test": "datum.value === 20", "value": "#111111"}, "value": "#a3a3a3"},
  "gridWidth": 1, "domain": false, "ticks": false,
  "labelFont": "Liberation Sans", "labelFontSize": 28, "labelColor": "#000000", "labelPadding": 16,
  "labelFlush": false, "labelOverlap": false, "labelBound": false, "title": null}},
"y": {"field": "y", "type": "quantitative",
 "scale": {"domain": [-1, 8], "nice": false, "zero": false},
 "axis": {"values": [-1,0,1,2,3,4,5,6,7,8], "grid": true, "gridDash": [7,5],
  "gridColor": "#a3a3a3", "gridWidth": 1, "domain": false, "ticks": false,
  "format": "d",
  "labelFont": "Liberation Sans", "labelFontSize": 28, "labelColor": "#000000", "labelPadding": 7,
  "labelFlush": false, "labelOverlap": false, "labelBound": false,
  "title": "elevation (m a.s.l.)", "titleFont": "Liberation Sans", "titleFontSize": 40, "titleFontWeight": "normal",
  "titleColor": "#000000", "titleX": -62, "titleY": 250, "titleAngle": -90, "titleAlign": "center", "titleBaseline": "middle"}}
},
"layer": [
{"data": {"name": "lev"}, "mark": {"type": "rule", "color": "#2424c4", "strokeWidth": 2.6, "strokeDash": [40, 9, 14, 9]},
 "encoding": {"x2": {"field": "x2"}}},
{"data": {"name": "off"}, "mark": {"type": "line", "color": "#8a8a8a", "strokeWidth": 1.1},
 "encoding": {"detail": {"field": "s"}}},
{"data": {"name": "yb"}, "mark": {"type": "area", "color": "#e0e020", "opacity": 1},
 "encoding": {"y2": {"field": "y2"}, "detail": {"field": "b"}}},
{"data": {"name": "tex"}, "transform": [{"filter": "datum.c === 'l'"}], "mark": {"type": "line", "color": "#bcbc8c", "strokeWidth": 0.9},
 "encoding": {"detail": {"field": "s"}}},
{"data": {"name": "tex"}, "transform": [{"filter": "datum.c === 'o'"}], "mark": {"type": "line", "color": "#a8a84a", "strokeWidth": 0.9},
 "encoding": {"detail": {"field": "s"}}},
{"data": {"name": "tex"}, "transform": [{"filter": "datum.c === 'w'"}], "mark": {"type": "line", "color": "#f6f6d8", "strokeWidth": 1.2},
 "encoding": {"detail": {"field": "s"}}},
{"data": {"name": "back"}, "transform": [{"filter": "datum.c === 'k'"}], "mark": {"type": "line", "color": "#7e7e7e", "strokeWidth": 1.2},
 "encoding": {"detail": {"field": "s"}}},
{"data": {"name": "back"}, "transform": [{"filter": "datum.c === 'p'"}], "mark": {"type": "line", "color": "#94769a", "strokeWidth": 1.2},
 "encoding": {"detail": {"field": "s"}}},
{"data": {"name": "mag"}, "transform": [{"filter": "datum.c === 'm'"}], "mark": {"type": "line", "color": "#d63ad6", "strokeWidth": 1.4},
 "encoding": {"detail": {"field": "s"}}},
{"data": {"name": "mag"}, "transform": [{"filter": "datum.c === 'n'"}], "mark": {"type": "line", "color": "#3ee63e", "strokeWidth": 1.5},
 "encoding": {"detail": {"field": "s"}}},
{"data": {"name": "gb"}, "mark": {"type": "area", "color": "#3ee63e", "opacity": 1},
 "encoding": {"y2": {"field": "y2"}, "detail": {"field": "b"}}},
{"data": {"name": "dots"}, "mark": {"type": "point", "shape": "circle", "filled": true, "size": 155, "fill": "#e8141c", "stroke": "#ffffff", "strokeWidth": 1, "opacity": 1}},
{"data": {"name": "yt"}, "mark": {"type": "rule", "color": "#000000", "strokeWidth": 2.5},
 "encoding": {"x2": {"datum": 3.0}}},
{"data": {"name": "xt"}, "mark": {"type": "rule", "color": "#000000", "strokeWidth": 2.5},
 "encoding": {"y2": {"datum": -0.78}}},
{"data": {"name": "lab"}, "mark": {"type": "text", "font": "Liberation Sans", "fontSize": 24, "align": "left", "baseline": "alphabetic", "color": "#111111"},
 "encoding": {"text": {"field": "t"}}},
{"data": {"name": "ttl"}, "mark": {"type": "text", "font": "Liberation Sans", "fontSize": 54, "align": "left", "baseline": "alphabetic", "color": "#000000"},
 "encoding": {"text": {"field": "t"}}},
{"data": {"name": "pc"}, "mark": {"type": "text", "font": "Liberation Sans", "fontSize": 58, "align": "right", "baseline": "alphabetic", "color": "#000000"},
 "encoding": {"text": {"field": "t"}}}
]
}
